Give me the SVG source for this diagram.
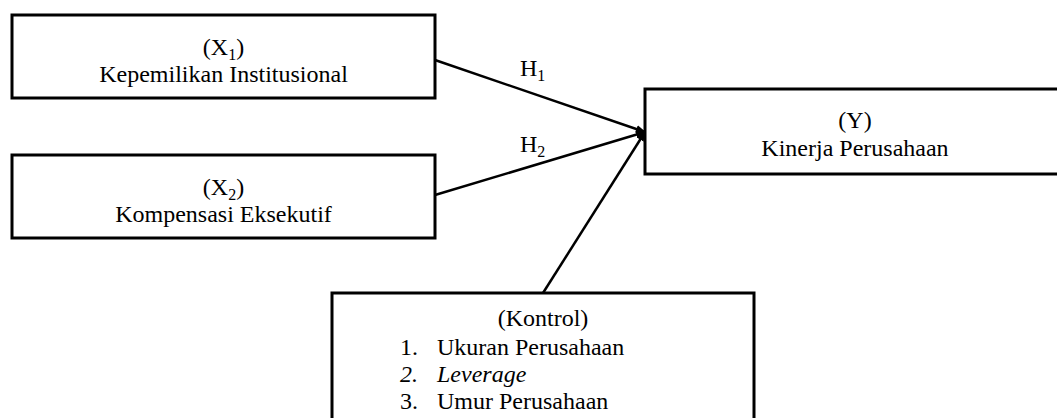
<svg xmlns="http://www.w3.org/2000/svg" width="1057" height="418" viewBox="0 0 1057 418">
<style>
.box{fill:#fff;stroke:#000;stroke-width:3}
.t{font-family:"Liberation Serif","Times New Roman",serif;font-size:24px;fill:#000}
.c{text-anchor:middle}
.sub{font-size:16px}
.edge{stroke:#000;stroke-width:2.5;fill:none;marker-end:url(#ah)}
</style>
<defs>
<marker id="ah" markerWidth="10" markerHeight="10" refX="9" refY="5" orient="auto" markerUnits="userSpaceOnUse">
<path d="M0,1 L10,5 L0,9 Z" fill="#000"/>
</marker>
</defs>
<rect width="1057" height="418" fill="#fff"/>
<g id="connectors">
<line class="edge" x1="435" y1="60" x2="645" y2="132"/>
<line class="edge" x1="435" y1="195" x2="645" y2="132"/>
<line class="edge" x1="543" y1="293" x2="645" y2="132"/>
<text class="t" x="520" y="76">H<tspan class="sub" dy="5">1</tspan></text>
<text class="t" x="520" y="152">H<tspan class="sub" dy="5">2</tspan></text>
</g>
<g id="x1">
<rect class="box" x="12" y="15" width="423" height="83"/>
<text class="t c" x="223.5" y="55">(X<tspan class="sub" dy="5">1</tspan><tspan dy="-5">)</tspan></text>
<text class="t c" x="223.5" y="82">Kepemilikan Institusional</text>
</g>
<g id="x2">
<rect class="box" x="12" y="155" width="423" height="83"/>
<text class="t c" x="223.5" y="195">(X<tspan class="sub" dy="5">2</tspan><tspan dy="-5">)</tspan></text>
<text class="t c" x="223.5" y="222">Kompensasi Eksekutif</text>
</g>
<g id="y">
<rect class="box" x="645" y="89" width="420" height="85"/>
<text class="t c" x="855" y="128">(Y)</text>
<text class="t c" x="855" y="156">Kinerja Perusahaan</text>
</g>
<g id="kontrol">
<rect class="box" x="332" y="293" width="422" height="140"/>
<text class="t c" x="543" y="326">(Kontrol)</text>
<text class="t" x="400" y="355">1.</text>
<text class="t" x="437" y="355">Ukuran Perusahaan</text>
<text class="t" x="400" y="382" font-style="italic">2.</text>
<text class="t" x="437" y="382" font-style="italic">Leverage</text>
<text class="t" x="400" y="409">3.</text>
<text class="t" x="437" y="409">Umur Perusahaan</text>
</g>
</svg>
